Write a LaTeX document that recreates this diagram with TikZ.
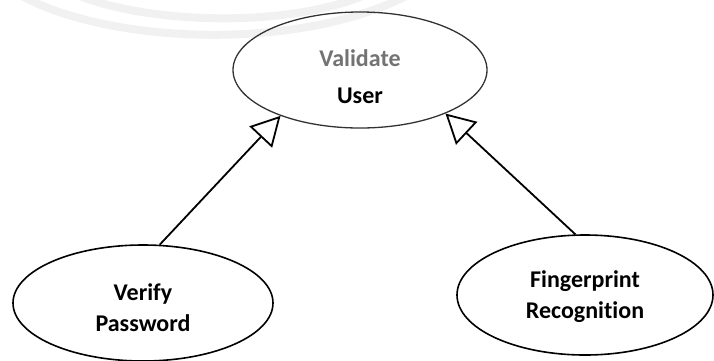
\documentclass[tikz,border=0pt]{standalone}
\usepackage{fontspec}
\setmainfont[Ligatures=NoCommon]{Carlito}
\usetikzlibrary{arrows.meta,shapes.geometric}
\tikzset{
  usecase/.style={draw=black, line width=1.6pt, ellipse, inner sep=0pt},
  casetext/.style={align=center, inner sep=0pt, font=\bfseries\fontsize{24}{31}\selectfont},
  generalize/.style={line width=1.8pt, -{Triangle[open, length=29pt, width=31pt, line width=1.8pt]}},
  watermark/.style={draw=gray!11, line width=8pt, line cap=round}
}
\begin{document}
\begin{tikzpicture}[x=1pt, y=-1pt]
  \useasboundingbox (0,0) rectangle (714,360);
  % faint logo arcs in the background
  \draw[watermark] (22,-4) .. controls (110,44) and (300,52) .. (410,-6);
  \draw[watermark] (70,-8) .. controls (140,24) and (290,30) .. (372,-8);

  % use cases: outline first, then its two-line name
  \node[usecase, draw=black!80, line width=1.3pt, minimum width=254pt, minimum height=116pt]
    (vu) at (360,70) {};
  \node[casetext, font=\bfseries\fontsize{24}{37}\selectfont] (vu-name)
    at ([yshift=-7pt]vu.center) {\textcolor{black!55}{Validate}\\User};

  \node[usecase, minimum width=260pt, minimum height=116pt]
    (vp) at (143,303) {};
  \node[casetext] (vp-name) at ([yshift=-5pt]vp.center) {Verify\\Password};

  \node[usecase, minimum width=256pt, minimum height=120pt]
    (fr) at (585,295) {};
  \node[casetext] (fr-name) at ([yshift=-2pt]fr.center) {Fingerprint\\Recognition};

  % generalization arrows
  \draw[generalize] (vp.74) -- (vu.210);
  \draw[generalize] (fr.99) -- (vu.333);
\end{tikzpicture}
\end{document}
